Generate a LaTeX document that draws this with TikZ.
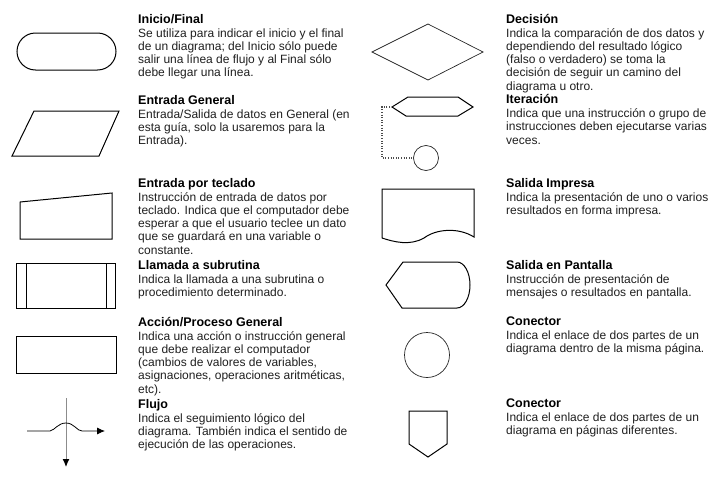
\documentclass[tikz,border=0pt]{standalone}
\usepackage{fontspec}
\setmainfont{Liberation Sans}
\usetikzlibrary{arrows.meta}
\tikzset{
  symbol/.style={draw=black, line width=1pt, line join=miter},
  thinsymbol/.style={draw=black!85, line width=0.7pt},
  heading/.style={anchor=base west, inner sep=0pt, font=\fontsize{12.5}{14}\selectfont\bfseries},
  bodyline/.style={anchor=base west, inner sep=0pt, text=black!88, font=\fontsize{12}{13.2}\selectfont},
  loopline/.style={draw=black!70, line width=1.1pt, dash pattern=on 1pt off 1.6pt}
}
\begin{document}
\begin{tikzpicture}[x=1pt, y=-1pt]
\useasboundingbox (0,0) rectangle (721,482);
% left column: symbols
\draw[symbol, rounded corners=18.5pt] (17,33) rectangle (116,70); % terminal
\draw[symbol] (34,111) -- (119,111) -- (99,156) -- (12,156) -- cycle; % data
\draw[symbol] (20,202) -- (112,193) -- (112,239) -- (20,239) -- cycle; % manual input
\draw[symbol] (16,263) rectangle (115,308); % subroutine
\foreach \x in {26,106} % edit here for the inner bars
\draw[symbol, line width=0.8pt] (\x,263) -- (\x,308);
\draw[symbol] (16,336) rectangle (116,373); % process
\draw[draw=black!45, line width=1pt, -{Latex[length=8pt, width=7pt, black]}] (66,398) -- (66,467);
\draw[symbol, line width=0.8pt, -{Latex[length=8pt, width=7pt]}] (27,431) -- (50,431)
  .. controls (55,430) and (58,423) .. (66,423)
  .. controls (74,423) and (77,431) .. (82,431) -- (105,431);
% right column: symbols
\draw[thinsymbol] (372,52) -- (428,24) -- (483,52) -- (428,80) -- cycle; % decision
\draw[symbol] (392,107) -- (408,97) -- (458,97) -- (473,107) -- (458,116) -- (406,116) -- cycle; % loop
\draw[loopline] (390,107) -- (382,107) -- (382,158) -- (413,158);
\draw[thinsymbol] (426,158) circle[radius=12.5pt];
\draw[symbol] (382,238) -- (382,189) -- (474,189) -- (474,237)
  .. controls (458,227) and (436,229) .. (424,238)
  .. controls (410,246) and (394,242) .. (382,238); % printed output
\draw[symbol] (386,285) -- (403,262) -- (457,262)
  arc[start angle=90, end angle=-90, x radius=13pt, y radius=23pt]
  -- (402,308) -- cycle; % display
\draw[thinsymbol] (427,355) circle[radius=22.5pt]; % connector
\draw[symbol] (409,411) -- (447,411) -- (447,444) -- (428,457) -- (409,444) -- cycle; % off-page
% left column: texts
\node[heading] (inicio) at (138,23.3) {Inicio/Final};
\foreach \l [count=\i] in {{Se utiliza para indicar el inicio y el final},
  {de un diagrama; del Inicio sólo puede},{salir una línea de flujo y al Final sólo},
  {debe llegar una línea.}}
\node[bodyline] (inicio\i) at (138,24.1+13.2*\i) {\l};
\node[heading] (entrada) at (138,104.3) {Entrada General};
\foreach \l [count=\i] in {{Entrada/Salida de datos en General (en},
  {esta guía, solo la usaremos para la},{Entrada).}}
\node[bodyline] (entrada\i) at (138,105.1+13.2*\i) {\l};
\node[heading] (teclado) at (138,187.3) {Entrada por teclado};
\foreach \l [count=\i] in {{Instrucción de entrada de datos por},
  {teclado. Indica que el computador debe},{esperar a que el usuario teclee un dato},
  {que se guardará en una variable o},{constante.}}
\node[bodyline] (teclado\i) at (138,188.1+13.2*\i) {\l};
\node[heading] (llamada) at (138,269.3) {Llamada a subrutina};
\foreach \l [count=\i] in {{Indica la llamada a una subrutina o},{procedimiento determinado.}}
\node[bodyline] (llamada\i) at (138,270.1+13.2*\i) {\l};
\node[heading] (accion) at (138,326.3) {Acción/Proceso General};
\foreach \l [count=\i] in {{Indica una acción o instrucción general},
  {que debe realizar el computador},{(cambios de valores de variables,},
  {asignaciones, operaciones aritméticas,},{etc).}}
\node[bodyline] (accion\i) at (138,327.1+13.2*\i) {\l};
\node[heading] (flujo) at (138,408.3) {Flujo};
\foreach \l [count=\i] in {{Indica el seguimiento lógico del},
  {diagrama. También indica el sentido de},{ejecución de las operaciones.}}
\node[bodyline] (flujo\i) at (138,409.1+13.2*\i) {\l};
% right column: texts
\node[heading] (decision) at (506,23.3) {Decisión};
\foreach \l [count=\i] in {{Indica la comparación de dos datos y},
  {dependiendo del resultado lógico},{(falso o verdadero) se toma la},
  {decisión de seguir un camino del},{diagrama u otro.}}
\node[bodyline] (decision\i) at (506,24.1+13.2*\i) {\l};
\node[heading] (iteracion) at (506,103.6) {Iteración};
\foreach \l [count=\i] in {{Indica que una instrucción o grupo de},
  {instrucciones deben ejecutarse varias},{veces.}}
\node[bodyline] (iteracion\i) at (506,104.4+13.2*\i) {\l};
\node[heading] (impresa) at (506,187.3) {Salida Impresa};
\foreach \l [count=\i] in {{Indica la presentación de uno o varios},
  {resultados en forma impresa.}}
\node[bodyline] (impresa\i) at (506,188.1+13.2*\i) {\l};
\node[heading] (pantalla) at (506,269.3) {Salida en Pantalla};
\foreach \l [count=\i] in {{Instrucción de presentación de},
  {mensajes o resultados en pantalla.}}
\node[bodyline] (pantalla\i) at (506,270.1+13.2*\i) {\l};
\node[heading] (conector) at (506,325.6) {Conector};
\foreach \l [count=\i] in {{Indica el enlace de dos partes de un},
  {diagrama dentro de la misma página.}}
\node[bodyline] (conector\i) at (506,326.4+13.2*\i) {\l};
\node[heading] (pagina) at (506,407.6) {Conector};
\foreach \l [count=\i] in {{Indica el enlace de dos partes de un},
  {diagrama en páginas diferentes.}}
\node[bodyline] (pagina\i) at (506,408.4+13.2*\i) {\l};
\end{tikzpicture}
\end{document}
